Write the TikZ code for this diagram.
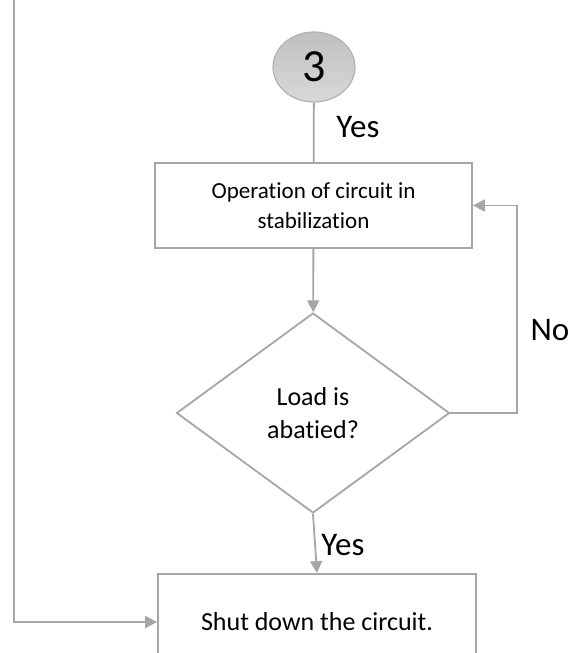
\documentclass[tikz,border=0pt]{standalone}
\usepackage{fontspec}
\setmainfont{Carlito}[Ligatures=NoCommon]
\usetikzlibrary{shapes.geometric, arrows.meta, positioning}
\definecolor{linegray}{HTML}{A6A6A6}

\tikzset{
  flow/.style={draw=linegray, line width=0.9pt},
  procbox/.style={rectangle, draw=linegray, line width=0.9pt, fill=white, align=center, inner sep=2pt},
  decision/.style={diamond, draw=linegray, line width=0.9pt, fill=white, align=center, inner sep=0pt},
  connector/.style={ellipse, draw=gray!60, line width=0.6pt, top color=gray!50, bottom color=gray!30, inner sep=0pt},
  answer/.style={font=\fontsize{16.5}{19}\selectfont}
}

\begin{document}
\begin{tikzpicture}[x=0.5pt, y=-0.5pt, >={Triangle[length=6pt,width=6pt]}]
      \useasboundingbox (0,0) rectangle (570,653);
      \clip (0,0) rectangle (570,653);

      \node[connector, minimum width=41pt, minimum height=35pt, font=\fontsize{23}{26}\selectfont] (c3) at (314,67) {3};
      \node[procbox, minimum width=158.5pt, minimum height=42.5pt, font=\fontsize{11.5}{15}\selectfont] (op) at (313.5,205.5) {Operation of circuit in\\stabilization};
      \node[decision, minimum width=136.5pt, minimum height=100pt, font=\fontsize{13}{16.5}\selectfont] (dec) at (313,413) {Load is\\abatied?};
      \node[procbox, minimum width=159pt, minimum height=48pt, font=\fontsize{13}{16}\selectfont] (shut) at (317,622) {Shut down the circuit.};
      \coordinate (fromtop) at (14,0);

      \draw[flow] (c3) -- (op);
      \draw[flow, ->] (op) -- (dec);
      \draw[flow, ->] (dec.east) -| ([xshift=22pt]op.east) -- (op.east);
      \draw[flow, ->] (dec.south) -- (shut.north);
      \draw[flow, ->] (fromtop) |- (shut.west);

      \node[answer] (yes1) at (358,127) {Yes};
      \node[answer] (no) at (550,330) {No};
      \node[answer] (yes2) at (343,545) {Yes};
    \end{tikzpicture}
\end{document}
